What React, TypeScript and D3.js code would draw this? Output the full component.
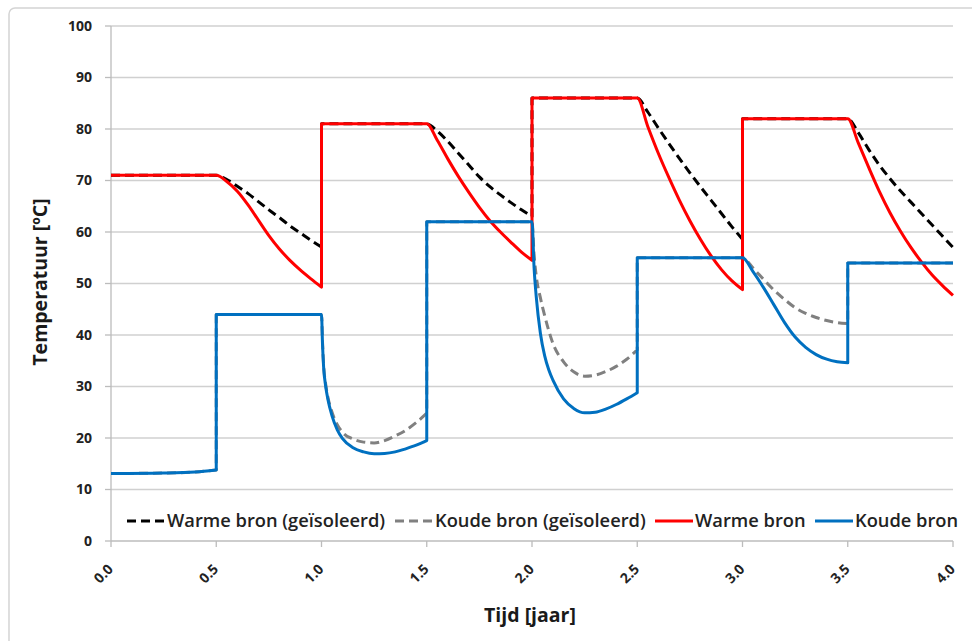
import React from "react";
import * as d3 from "d3";

type Pt = [number, number];

// Tijd [jaar] vs temperatuur [ºC]
const warmeBronGeisoleerd: Pt[] = [
  [0, 71], [0.5, 71], [0.55, 70.2], [0.6, 68.9], [0.65, 67.5], [0.7, 65.9], [0.75, 64.3], [0.8, 62.8], [0.85, 61.2], [0.9, 59.8], [0.95, 58.4], [1.0, 57.1],
  [1.0, 81], [1.5, 81], [1.55, 79.6], [1.6, 77.6], [1.65, 75.3], [1.7, 73], [1.75, 70.7], [1.8, 68.8], [1.85, 67.2], [1.9, 65.7], [1.95, 64.3], [2.0, 63],
  [2.0, 86], [2.5, 86], [2.55, 83.3], [2.6, 80.2], [2.65, 77.2], [2.7, 74.3], [2.75, 71.5], [2.8, 68.8], [2.85, 66.2], [2.9, 63.6], [2.95, 61], [3.0, 58.6],
  [3.0, 82], [3.5, 82], [3.55, 79.3], [3.6, 76], [3.65, 73], [3.7, 70.4], [3.75, 68], [3.8, 65.8], [3.85, 63.6], [3.9, 61.4], [3.95, 59.2], [4.0, 57],
];

const koudeBronGeisoleerd: Pt[] = [
  [0, 13.1], [0.25, 13.2], [0.4, 13.4], [0.5, 13.8],
  [0.5, 44], [1.0, 44], [1.005, 38.5], [1.01, 34.2], [1.02, 30.4], [1.03, 28], [1.05, 25], [1.075, 22.6], [1.1, 21.1], [1.15, 19.8], [1.2, 19.2], [1.25, 19.05], [1.3, 19.5], [1.35, 20.4], [1.4, 21.5], [1.45, 23], [1.5, 24.8],
  [1.5, 62], [2.0, 62], [2.01, 55.5], [2.02, 51.5], [2.04, 47.2], [2.06, 43.8], [2.08, 40.8], [2.1, 38.3], [2.15, 34.8], [2.2, 32.8], [2.25, 32], [2.3, 32.2], [2.35, 32.9], [2.4, 33.9], [2.45, 35.3], [2.5, 37.1],
  [2.5, 55], [3.0, 55], [3.05, 53], [3.1, 50.8], [3.15, 48.7], [3.2, 46.9], [3.25, 45.3], [3.3, 44.2], [3.35, 43.4], [3.4, 42.8], [3.45, 42.4], [3.5, 42.2],
  [3.5, 54], [4.0, 54],
];

const warmeBron: Pt[] = [
  [0, 71], [0.5, 71], [0.55, 69.8], [0.6, 67.9], [0.65, 65.3], [0.7, 62.3], [0.75, 59.3], [0.8, 56.7], [0.85, 54.5], [0.9, 52.6], [0.95, 50.9], [1.0, 49.3],
  [1.0, 81], [1.5, 81], [1.55, 77.8], [1.6, 74.2], [1.65, 70.8], [1.7, 67.7], [1.75, 64.8], [1.8, 62.2], [1.85, 60], [1.9, 58], [1.95, 56.1], [2.0, 54.5],
  [2.0, 86], [2.5, 86], [2.55, 80.5], [2.6, 75.3], [2.65, 70.6], [2.7, 66.2], [2.75, 62.2], [2.8, 58.6], [2.85, 55.4], [2.9, 52.7], [2.95, 50.5], [3.0, 48.8],
  [3.0, 82], [3.5, 82], [3.55, 77.3], [3.6, 72.5], [3.65, 67.9], [3.7, 63.8], [3.75, 60.2], [3.8, 57], [3.85, 54.2], [3.9, 51.7], [3.95, 49.6], [4.0, 47.7],
];

const koudeBron: Pt[] = [
  [0, 13.1], [0.25, 13.2], [0.4, 13.4], [0.5, 13.8],
  [0.5, 44], [1.0, 44], [1.005, 38], [1.01, 33.8], [1.02, 30], [1.03, 27.6], [1.05, 24.3], [1.075, 21.6], [1.1, 19.9], [1.15, 18.1], [1.2, 17.3], [1.25, 16.95], [1.3, 17], [1.35, 17.3], [1.4, 17.9], [1.45, 18.6], [1.5, 19.5],
  [1.5, 62], [2.0, 62], [2.01, 53], [2.02, 47.5], [2.04, 40.3], [2.06, 36], [2.08, 33.2], [2.1, 31.2], [2.15, 27.6], [2.2, 25.7], [2.25, 24.9], [2.3, 25], [2.35, 25.6], [2.4, 26.5], [2.45, 27.6], [2.5, 28.8],
  [2.5, 55], [3.0, 55], [3.05, 52.3], [3.1, 49.2], [3.15, 45.8], [3.2, 42.4], [3.25, 39.6], [3.3, 37.6], [3.35, 36.2], [3.4, 35.3], [3.45, 34.8], [3.5, 34.6],
  [3.5, 54], [4.0, 54],
];

const yTicks = [0, 10, 20, 30, 40, 50, 60, 70, 80, 90, 100];
const xTicks = [0, 0.5, 1.0, 1.5, 2.0, 2.5, 3.0, 3.5, 4.0];

const seriesNames = ["Warme bron (geïsoleerd)", "Koude bron (geïsoleerd)", "Warme bron", "Koude bron"];
const seriesData = [warmeBronGeisoleerd, koudeBronGeisoleerd, warmeBron, koudeBron];
const seriesColors = ["#000000", "#808080", "#ff0000", "#0070c0"];
const seriesDashed = [true, true, false, false];

const W = 972;
const H = 641;
const FONT = "'Open Sans', Lato, sans-serif";

const x = d3.scaleLinear().domain([0, 4]).range([111, 953]);
const y = d3.scaleLinear().domain([0, 100]).range([541, 26]);

// Split a series at its vertical jumps, smooth each piece, then join the pieces
// with straight vertical segments so the stroke (and its dashes) stays continuous.
function seriesPath(pts: Pt[]): string {
  const pieces: Pt[][] = [];
  let cur: Pt[] = [];
  pts.forEach((p, i) => {
    if (i > 0 && p[0] === pts[i - 1][0]) {
      pieces.push(cur);
      cur = [];
    }
    cur.push(p);
  });
  pieces.push(cur);
  const line = d3
    .line<Pt>()
    .x((d) => x(d[0]))
    .y((d) => y(d[1]))
    .curve(d3.curveMonotoneX);
  return pieces
    .map((piece, i) => {
      const d = line(piece) || "";
      return i === 0 ? d : "L" + d.slice(1);
    })
    .join("");
}

const legendX = [127, 395, 655, 815];

export default function App() {
  return (
    <svg
      width={W}
      height={H}
      style={{ position: "absolute", left: 0, top: 0, background: "#fff" }}
      fontFamily={FONT}
    >
      <rect x={9} y={8} width={1000} height={700} rx={6} fill="#fff" stroke="#d4d4d4" strokeWidth={1.5} />

      {/* grid */}
      {yTicks.filter((t) => t > 0).map((t) => (
        <line key={t} x1={x(0)} x2={x(4)} y1={y(t)} y2={y(t)} stroke="#d0d0d0" strokeWidth={1.3} />
      ))}

      {/* axes */}
      <line x1={x(0)} x2={x(0)} y1={y(0)} y2={y(100)} stroke="#bcbcbc" strokeWidth={1.3} />
      <line x1={x(0)} x2={x(4)} y1={y(0)} y2={y(0)} stroke="#bcbcbc" strokeWidth={1.3} />
      {yTicks.map((t) => (
        <g key={t}>
          <line x1={x(0) - 6} x2={x(0)} y1={y(t)} y2={y(t)} stroke="#bcbcbc" strokeWidth={1.3} />
          <text x={92} y={y(t)} dy="0.35em" textAnchor="end" fontSize={14} fontWeight="bold" fill="#222">
            {t}
          </text>
        </g>
      ))}
      {xTicks.map((t) => (
        <g key={t}>
          <line x1={x(t)} x2={x(t)} y1={y(0)} y2={y(0) + 6} stroke="#bcbcbc" strokeWidth={1.3} />
          <text
            transform={`translate(${x(t) + 3},${570}) rotate(-45)`}
            textAnchor="end"
            fontSize={14}
            fontWeight="bold"
            fill="#222"
          >
            {t.toFixed(1)}
          </text>
        </g>
      ))}

      {/* series */}
      {seriesData.map((pts, i) => (
        <path
          key={seriesNames[i]}
          d={seriesPath(pts)}
          fill="none"
          stroke={seriesColors[i]}
          strokeWidth={3}
          strokeDasharray={seriesDashed[i] ? "9,5" : undefined}
          strokeLinejoin="round"
        />
      ))}

      {/* legend */}
      {seriesNames.map((name, i) => (
        <g key={name} transform={`translate(${legendX[i]},${521})`}>
          <line
            x1={0}
            x2={38}
            y1={0}
            y2={0}
            stroke={seriesColors[i]}
            strokeWidth={3}
            strokeDasharray={seriesDashed[i] ? "9,5" : undefined}
          />
          <text x={40} y={0} dy="0.35em" fontSize={18.3} fontWeight={600} fill="#222">
            {name}
          </text>
        </g>
      ))}

      {/* axis titles */}
      <text x={530} y={622} textAnchor="middle" fontSize={19.5} fontWeight="bold" fill="#1a1a1a">
        Tijd [jaar]
      </text>
      <text
        transform={`translate(47,282) rotate(-90)`}
        textAnchor="middle"
        fontSize={19.5}
        fontWeight="bold"
        fill="#1a1a1a"
      >
        Temperatuur [ºC]
      </text>
    </svg>
  );
}
